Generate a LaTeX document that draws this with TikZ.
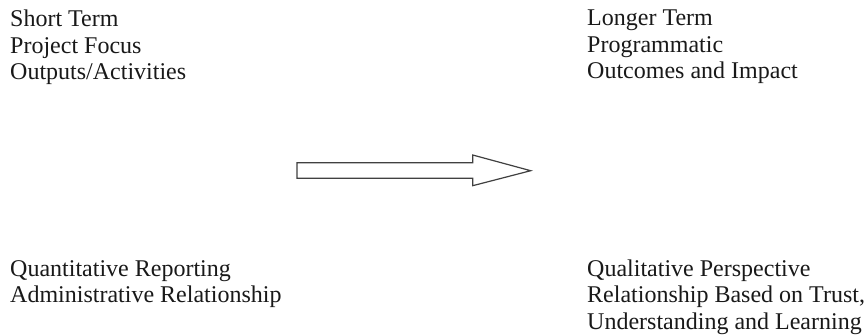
\documentclass[tikz,border=0pt]{standalone}
\usepackage{fontspec}
\setmainfont{Liberation Serif}
\begin{document}
\begin{tikzpicture}[x=1pt,y=-1pt,
  lbl/.style={anchor=north west,inner sep=0pt,align=left,text=black!90,
    font=\fontsize{24}{26.5}\selectfont},
  arrowshape/.style={draw=black!75,line width=1.2pt,fill=white,line join=miter}]
\useasboundingbox[fill=white] (0,0) rectangle (866,335);
\node[lbl] (tl) at (10,10) {Short Term\\Project Focus\\Outputs/Activities};
\node[lbl] (tr) at (587,10) {Longer Term\\Programmatic\\Outcomes and Impact};
\node[lbl] (bl) at (10,260) {Quantitative Reporting\\Administrative Relationship};
\node[lbl] (br) at (587,259.5) {Qualitative Perspective\\Relationship Based on Trust,\\Understanding and Learning};
\draw[arrowshape] (297,162.7) -- (472.7,162.7) -- (472.7,155) -- (530.7,170.7)
  -- (472.7,185.7) -- (472.7,178.3) -- (297,178.3) -- cycle;
\end{tikzpicture}
\end{document}
